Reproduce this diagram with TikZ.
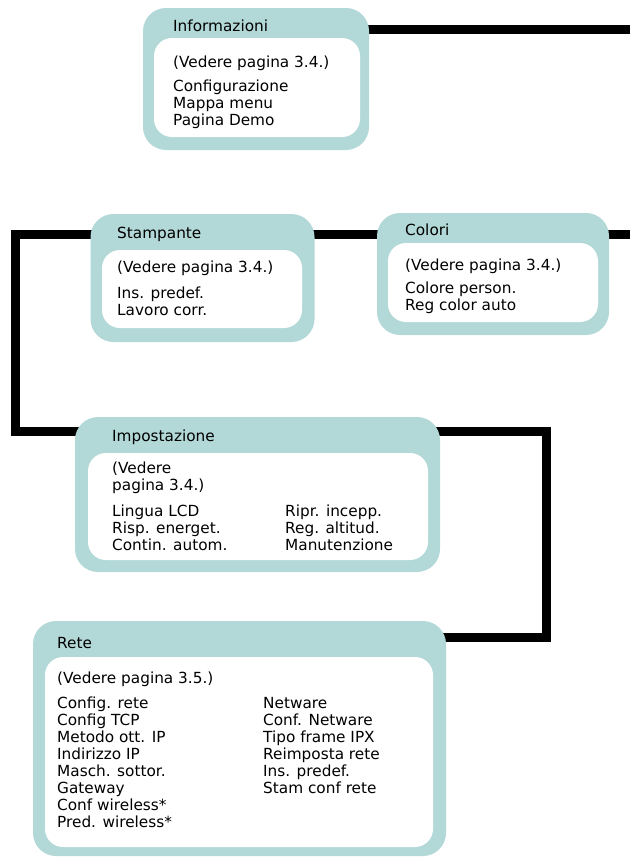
\documentclass[tikz,border=0pt]{standalone}
\usepackage{fontspec}
\setmainfont{DejaVu Sans}
\usetikzlibrary{backgrounds}
\definecolor{teal1}{RGB}{178,217,215}
\tikzset{
  outerbox/.style={fill=teal1, draw=none, rounded corners=23pt, inner sep=0pt},
  innerbox/.style={fill=white, draw=none, rounded corners=18pt, inner sep=0pt},
  lbl/.style={anchor=base west, inner sep=0pt, font=\fontsize{15.3}{17}\selectfont},
  lst/.style={anchor=north west, inner sep=0pt, align=left, font=\fontsize{15.3}{17}\selectfont},
  wire/.style={line width=9pt, line join=miter, draw=black},
}
\begin{document}
\begin{tikzpicture}[x=1pt,y=-1pt]
\useasboundingbox (0,0) rectangle (630,862);
% ---- Informazioni
\node[outerbox, minimum width=226pt, minimum height=142pt] (info) at (256,79) {};
\node[innerbox, minimum width=206pt, minimum height=99pt] (infoin) at (257,87.5) {};
\node[lbl] (infot) at (173,31.7) {Informazioni};
\node[lbl] (infov) at (173,67.7) {(Vedere pagina 3.4.)};
\node[lst] (infol) at (173,79.8) {\strut Configurazione\\Mappa menu\\Pagina Demo};
% ---- Stampante
\node[outerbox, minimum width=224pt, minimum height=128pt] (stamp) at (202.5,278) {};
\node[innerbox, minimum width=200pt, minimum height=78pt] (stampin) at (202,289) {};
\node[lbl] (stampt) at (117,238) {Stampante};
\node[lbl] (stampv) at (117,272) {(Vedere pagina 3.4.)};
\node[lst] (stampl) at (117,286.4) {\strut Ins. predef.\\Lavoro corr.};
% ---- Colori
\node[outerbox, minimum width=232pt, minimum height=122pt] (col) at (493,274) {};
\node[innerbox, minimum width=210pt, minimum height=79pt] (colin) at (493,282.5) {};
\node[lbl] (colt) at (405,235) {Colori};
\node[lbl] (colv) at (405,270) {(Vedere pagina 3.4.)};
\node[lst] (coll) at (405,281.4) {\strut Colore person.\\Reg color auto};
% ---- Impostazione
\node[outerbox, minimum width=365pt, minimum height=155pt] (imp) at (257.5,494.5) {};
\node[innerbox, minimum width=340pt, minimum height=107pt] (impin) at (258,506.5) {};
\node[lbl] (impt) at (112,441) {Impostazione};
\node[lst] (impv) at (112,461.1) {\strut (Vedere\\pagina 3.4.)};
\node[lst] (impl) at (112,504.1) {\strut Lingua LCD\\Risp. energet.\\Contin. autom.};
\node[lst] (impr) at (285,504.1) {\strut Ripr. incepp.\\Reg. altitud.\\Manutenzione};
% ---- Rete
\node[outerbox, minimum width=413pt, minimum height=235pt] (rete) at (239.5,738.5) {};
\node[innerbox, minimum width=388pt, minimum height=190pt] (retein) at (239,752) {};
\node[lbl] (retet) at (57,648) {Rete};
\node[lbl] (retev) at (57,683) {(Vedere pagina 3.5.)};
\node[lst] (retel) at (57,696.1) {\strut Config. rete\\Config TCP\\Metodo ott. IP\\Indirizzo IP\\Masch. sottor.\\Gateway\\Conf wireless*\\Pred. wireless*};
\node[lst] (reter) at (263,696.1) {\strut Netware\\Conf. Netware\\Tipo frame IPX\\Reimposta rete\\Ins. predef.\\Stam conf rete};
% ---- connectors
\coordinate (e1) at (630,29);
\coordinate (e2) at (630,234);
\coordinate (k1) at (15.5,234);
\coordinate (k2) at (15.5,431.5);
\coordinate (k3) at (546,431.5);
\coordinate (k4) at (546,637.5);
\begin{scope}[on background layer]
\draw[wire] (info.center |- e1) -- (e1);
\draw[wire] (stamp.center |- k1) -- (k1) -- (k2) -- (imp.center |- k2);
\draw[wire] (stamp.center |- e2) -- (col.center |- e2);
\draw[wire] (col.center |- e2) -- (e2);
\draw[wire] (imp.center |- k3) -- (k3) -- (k4) -- (rete.center |- k4);
\end{scope}
\end{tikzpicture}
\end{document}
